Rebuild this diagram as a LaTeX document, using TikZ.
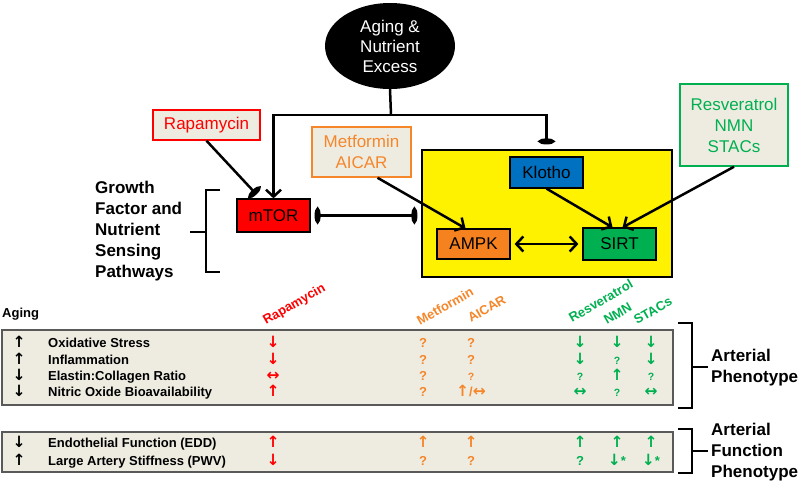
\documentclass[tikz,border=0pt]{standalone}
\usepackage{fontspec}
\setmainfont{Liberation Sans}
\newfontfamily\arrowfont{DejaVu Sans}
\usepackage{tikz}
\usetikzlibrary{shapes.geometric,arrows.meta}

\definecolor{tanfill}{HTML}{EEECE1}
\definecolor{drugred}{HTML}{FF0000}
\definecolor{drugorange}{HTML}{F5862A}
\definecolor{druggreen}{HTML}{00B050}
\definecolor{ampkorange}{HTML}{F5821F}
\definecolor{klothoblue}{HTML}{0070C0}

\newcommand{\arrup}{{\arrowfont\fontsize{15.5}{16}\selectfont ↑}}
\newcommand{\arrdn}{{\arrowfont\fontsize{15.5}{16}\selectfont ↓}}
\newcommand{\arrlr}{{\arrowfont\fontsize{15.5}{16}\selectfont ↔}}
\newcommand{\smq}{{\fontsize{10.5}{12}\selectfont ?}}
\newcommand{\aicarmix}{\arrup/\arrlr}

\tikzset{
  protein/.style={draw, line width=1.2pt, inner sep=0pt, font=\fontsize{17}{21}\selectfont},
  drug/.style={draw, line width=1.5pt, fill=tanfill, inner sep=0pt, align=center,
    font=\fontsize{17}{21}\selectfont},
  act/.style={-{Straight Barb[length=7pt,width=15pt]}, line width=2.5pt},
  inh/.style={-{Ellipse[length=6pt,width=16pt]}, line width=2.5pt},
  inhboth/.style={{Ellipse[length=6pt,width=16pt]}-{Ellipse[length=6pt,width=16pt]}, line width=2.5pt},
  bracket/.style={line width=2.2pt},
  cell/.style={font=\fontsize{13}{15}\selectfont\bfseries, inner sep=0pt, text height=9.5pt, text depth=0pt},
  head/.style={font=\fontsize{13}{15}\selectfont\bfseries, inner sep=0pt, anchor=base west, rotate=30},
  phenotype/.style={font=\fontsize{17}{21}\selectfont\bfseries, align=left, anchor=west, inner sep=0pt},
  table/.style={draw=gray!70!black, line width=1.6pt, fill=tanfill},
}

\begin{document}
\begin{tikzpicture}[x=1pt, y=-1pt]
  \useasboundingbox (0,0) rectangle (800,483);

  % pathway diagram
  \node[ellipse, fill=black, text=white, minimum width=130pt, minimum height=86pt,
    inner sep=0pt, align=center, font=\fontsize{17}{20}\selectfont] (aging) at (390,46)
    {Aging \&\\Nutrient\\Excess};
  \node[draw, line width=1.2pt, fill=yellow, minimum width=250pt, minimum height=127pt] (pathway) at (547,213.5) {};
  \node[protein, fill=klothoblue, minimum width=73pt, minimum height=31pt] (klotho) at (546.5,172.5) {Klotho};
  \node[protein, fill=ampkorange, minimum width=73pt, minimum height=30pt] (ampk) at (473.5,244) {AMPK};
  \node[protein, fill=druggreen, minimum width=73pt, minimum height=32pt] (sirt) at (619.5,244) {SIRT};
  \node[protein, fill=drugred, minimum width=73pt, minimum height=33pt] (mtor) at (273.5,215.5) {mTOR};

  \node[drug, draw=drugred, text=drugred, minimum width=107pt, minimum height=30pt] (rapa) at (206.5,125) {Rapamycin};
  \node[drug, draw=drugorange, text=drugorange, minimum width=99pt, minimum height=50pt] (metformin) at (361.5,152) {Metformin\\AICAR};
  \node[drug, draw=druggreen, text=druggreen, minimum width=108pt, minimum height=82pt] (resv) at (734,125) {Resveratrol\\NMN\\STACs};

  \coordinate (split) at (391,115);
  \draw[line width=2.5pt] (aging.south) -- (split);
  \draw[act] (split) -| (mtor.north);
  \draw[inh] (split) -| ([yshift=5pt]klotho.north |- pathway.north);
  \draw[inh] (rapa.south) -- ([xshift=-17pt,yshift=4pt]mtor.north);
  \draw[inhboth, shorten <=4pt, shorten >=4pt] (mtor.east) -- (mtor.east -| pathway.west);
  \draw[act] ([xshift=16pt]metformin.south) -- ([xshift=-8pt]ampk.north);
  \draw[act] (klotho.south) -- ([xshift=-7pt]sirt.north);
  \draw[act] (resv.south) -- ([xshift=3pt]sirt.north);
  \draw[{Straight Barb[length=7pt,width=15pt]}-{Straight Barb[length=7pt,width=15pt]}, line width=2.5pt,
    shorten <=4pt, shorten >=4pt] (ampk.east) -- (sirt.west);

  % growth factor bracket
  \node[phenotype] (growth) at (95,231) {Growth\\Factor and\\Nutrient\\Sensing\\Pathways};
  \draw[bracket] (220,190) -- (206,190) -- (206,272) -- (220,272);
  \draw[bracket] (206,232) -- (190,232);

  % table
  \node[font=\fontsize{13}{15}\selectfont\bfseries, anchor=west, inner sep=0pt] (agehead) at (2,314) {Aging};
  \node[head, text=drugred] (hrapa) at (266,325) {Rapamycin};
  \node[head, text=drugorange] (hmet) at (420,326) {Metformin};
  \node[head, text=drugorange] (haicar) at (471,323) {AICAR};
  \node[head, text=druggreen] (hresv) at (572,323) {Resveratrol};
  \node[head, text=druggreen] (hnmn) at (607,325) {NMN};
  \node[head, text=druggreen] (hstacs) at (637,325) {STACs};

  \draw[table] (2,330) rectangle (673,405);
  \draw[table] (2,432) rectangle (673,472);

  \foreach \i/\y/\ag/\lab/\ra/\me/\ai/\re/\nm/\st in {
    1/343/\arrup/Oxidative Stress/\arrdn/?/?/\arrdn/\arrdn/\arrdn,
    2/360/\arrup/Inflammation/\arrdn/?/?/\arrdn/\smq/\arrdn,
    3/376/\arrdn/Elastin:Collagen Ratio/\arrlr/?/\smq/\smq/\arrup/\smq,
    4/392/\arrdn/Nitric Oxide Bioavailability/\arrup/?/\aicarmix/\arrlr/\smq/\arrlr,
    5/443/\arrdn/Endothelial Function (EDD)/\arrup/\arrup/\arrup/\arrup/\arrup/\arrup,
    6/461/\arrup/Large Artery Stiffness (PWV)/\arrdn/?/?/?/\arrdn*/\arrdn*}
  {
    \node[cell] (ag\i) at (19,\y) {\ag};
    \node[cell, anchor=west] (lab\i) at (48,\y) {\lab};
    \node[cell, text=drugred] (ra\i) at (273,\y) {\ra};
    \node[cell, text=drugorange] (me\i) at (423,\y) {\me};
    \node[cell, text=drugorange] (ai\i) at (471,\y) {\ai};
    \node[cell, text=druggreen] (re\i) at (580,\y) {\re};
    \node[cell, text=druggreen] (nm\i) at (617,\y) {\nm};
    \node[cell, text=druggreen] (st\i) at (651,\y) {\st};
  }

  % phenotype brackets
  \draw[bracket] (678,323) -- (692,323) -- (692,408) -- (678,408);
  \draw[bracket] (692,367) -- (708,367);
  \node[phenotype] (arterial) at (711,367.5) {Arterial\\Phenotype};
  \draw[bracket] (678,429) -- (692,429) -- (692,473) -- (678,473);
  \draw[bracket] (692,451) -- (708,451);
  \node[phenotype] (function) at (711,452) {Arterial\\Function\\Phenotype};
\end{tikzpicture}
\end{document}
